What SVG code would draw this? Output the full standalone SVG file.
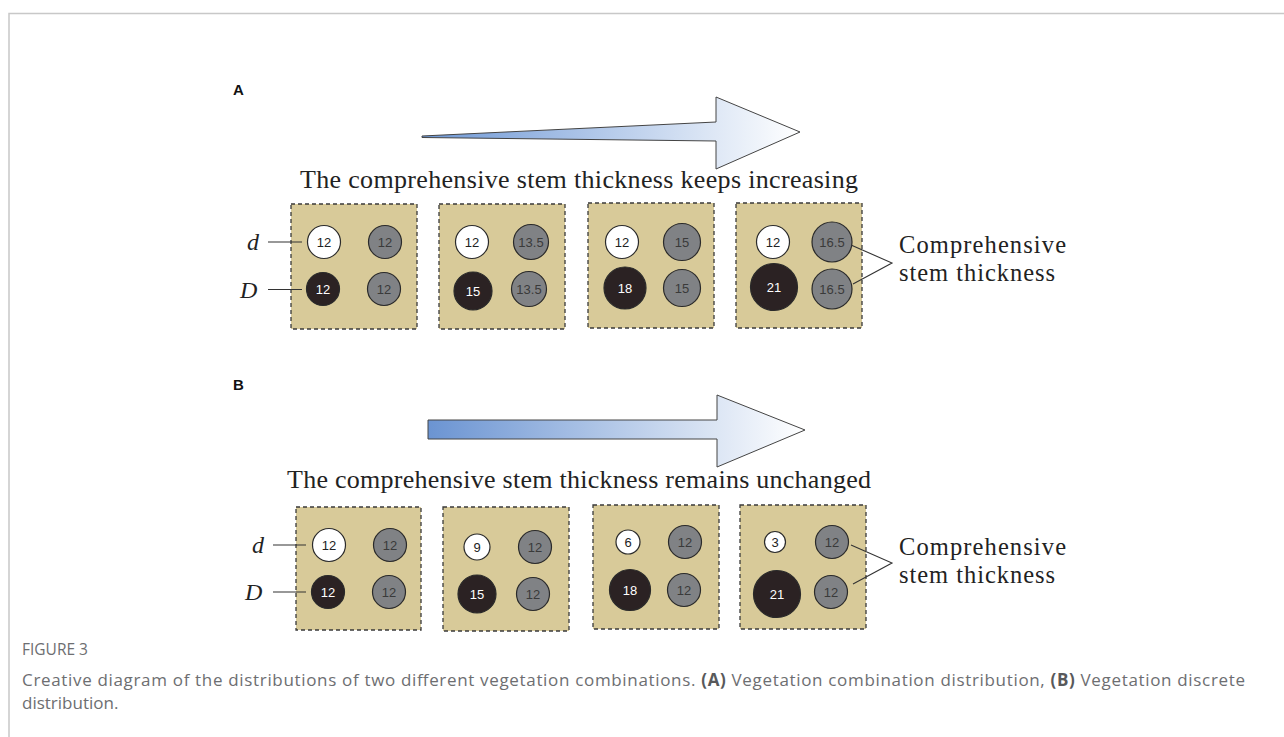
<svg xmlns="http://www.w3.org/2000/svg" width="1284" height="737" viewBox="0 0 1284 737">
<defs>
<linearGradient id="gA" x1="0" y1="0" x2="1" y2="0">
<stop offset="0" stop-color="#6e98d6"/>
<stop offset="1" stop-color="#ffffff"/>
</linearGradient>
<linearGradient id="gB" x1="0" y1="0" x2="1" y2="0">
<stop offset="0" stop-color="#6b94d2"/>
<stop offset="1" stop-color="#ffffff"/>
</linearGradient>
<style>
.box{fill:#d8ca99;stroke:#3a3a3a;stroke-width:1.3;stroke-dasharray:4 3}
.w{fill:#ffffff;stroke:#2a2a2a;stroke-width:1.2}
.g{fill:#808285;stroke:#2a2a2a;stroke-width:1.2}
.k{fill:#2b2223;stroke:#2a2a2a;stroke-width:1.2}
.n{font-family:"Liberation Sans",Arial,sans-serif;font-size:13px;text-anchor:middle}
.nw{fill:#222}
.ng{fill:#3a3a3a}
.nk{fill:#ffffff}
.serif{font-family:"Liberation Serif","Times New Roman",serif;fill:#222}
.side{font-family:"Liberation Serif","Times New Roman",serif;fill:#222;font-size:24.5px}
.ital{font-family:"Liberation Serif","Times New Roman",serif;font-style:italic;font-size:24px;fill:#222}
.lbl{font-family:"Liberation Sans",Arial,sans-serif;font-weight:bold;font-size:15px;fill:#111}
.ln{stroke:#333;stroke-width:1.1;fill:none}
.arrow{stroke:#444;stroke-width:1}
.cap{font-family:"Open Sans","Noto Sans",sans-serif;fill:#6d6e71}
</style>
</defs>
<rect width="1284" height="737" fill="#ffffff"/>
<g id="frame">
<path d="M9 737 V13.5 H1284" fill="none" stroke="#c8c8c8" stroke-width="1.5"/>
</g>

<g id="panelA">
<text class="lbl" x="233" y="95">A</text>
<polygon class="arrow" fill="url(#gA)" points="422,136 716,122 716,97 800,132 716,169 716,141 422,137.5"/>
<text class="serif" x="300" y="188" font-size="26" textLength="558" lengthAdjust="spacing">The comprehensive stem thickness keeps increasing</text>
</g>

<g id="A1">
<rect class="box" x="291" y="204" width="126" height="125"/>
<circle class="w" cx="324" cy="242" r="16.5"/><text class="n nw" x="324" y="246.5">12</text>
<circle class="g" cx="385" cy="242" r="16.5"/><text class="n ng" x="385" y="246.5">12</text>
<circle class="k" cx="323" cy="289" r="16.5"/><text class="n nk" x="323" y="293.5">12</text>
<circle class="g" cx="384" cy="289" r="16.5"/><text class="n ng" x="384" y="293.5">12</text>
</g>
<g id="A2">
<rect class="box" x="439" y="204" width="126" height="125"/>
<circle class="w" cx="472" cy="242" r="16.5"/><text class="n nw" x="472" y="246.5">12</text>
<circle class="g" cx="531" cy="242" r="17.5"/><text class="n ng" x="531" y="246.5">13.5</text>
<circle class="k" cx="473" cy="291" r="19"/><text class="n nk" x="473" y="295.5">15</text>
<circle class="g" cx="529" cy="289" r="17.5"/><text class="n ng" x="529" y="293.5">13.5</text>
</g>
<g id="A3">
<rect class="box" x="588" y="203" width="126" height="125"/>
<circle class="w" cx="622" cy="242" r="16.5"/><text class="n nw" x="622" y="246.5">12</text>
<circle class="g" cx="682" cy="242" r="18.5"/><text class="n ng" x="682" y="246.5">15</text>
<circle class="k" cx="625" cy="288" r="21"/><text class="n nk" x="625" y="292.5">18</text>
<circle class="g" cx="682" cy="288" r="18.5"/><text class="n ng" x="682" y="292.5">15</text>
</g>
<g id="A4">
<rect class="box" x="736" y="203" width="126" height="125"/>
<circle class="w" cx="773" cy="242" r="16.5"/><text class="n nw" x="773" y="246.5">12</text>
<circle class="g" cx="832" cy="242" r="20"/><text class="n ng" x="832" y="246.5">16.5</text>
<circle class="k" cx="774" cy="287" r="23.5"/><text class="n nk" x="774" y="291.5">21</text>
<circle class="g" cx="832" cy="289" r="20"/><text class="n ng" x="832" y="293.5">16.5</text>
</g>
<g id="A-labels">
<text class="ital" x="247" y="250">d</text>
<text class="ital" x="240" y="298">D</text>
<text class="side" x="899" y="253" textLength="167" lengthAdjust="spacing">Comprehensive</text>
<text class="side" x="899" y="281" textLength="156" lengthAdjust="spacing">stem thickness</text>
</g>

<g id="panelB">
<text class="lbl" x="233" y="390">B</text>
<polygon class="arrow" fill="url(#gB)" points="428,420 717,420 717,395 805,430 717,467 717,439 428,439"/>
<text class="serif" x="287" y="488" font-size="26" textLength="584" lengthAdjust="spacing">The comprehensive stem thickness remains unchanged</text>
</g>

<g id="B1">
<rect class="box" x="296" y="507" width="125" height="123"/>
<circle class="w" cx="329" cy="545" r="16.5"/><text class="n nw" x="329" y="549.5">12</text>
<circle class="g" cx="390" cy="545" r="16.5"/><text class="n ng" x="390" y="549.5">12</text>
<circle class="k" cx="328" cy="592" r="16.5"/><text class="n nk" x="328" y="596.5">12</text>
<circle class="g" cx="389" cy="592" r="16.5"/><text class="n ng" x="389" y="596.5">12</text>
</g>
<g id="B2">
<rect class="box" x="443" y="507" width="126" height="124"/>
<circle class="w" cx="477" cy="547" r="13"/><text class="n nw" x="477" y="551.5">9</text>
<circle class="g" cx="535" cy="547" r="16.5"/><text class="n ng" x="535" y="551.5">12</text>
<circle class="k" cx="477" cy="594" r="19"/><text class="n nk" x="477" y="598.5">15</text>
<circle class="g" cx="533" cy="594" r="16.5"/><text class="n ng" x="533" y="598.5">12</text>
</g>
<g id="B3">
<rect class="box" x="593" y="505" width="126" height="124"/>
<circle class="w" cx="628" cy="542" r="12"/><text class="n nw" x="628" y="546.5">6</text>
<circle class="g" cx="685" cy="542" r="16.5"/><text class="n ng" x="685" y="546.5">12</text>
<circle class="k" cx="630" cy="590" r="20.5"/><text class="n nk" x="630" y="594.5">18</text>
<circle class="g" cx="684" cy="590" r="16.5"/><text class="n ng" x="684" y="594.5">12</text>
</g>
<g id="B4">
<rect class="box" x="740" y="505" width="126" height="124"/>
<circle class="w" cx="775" cy="542" r="10.5"/><text class="n nw" x="775" y="546.5">3</text>
<circle class="g" cx="832" cy="542" r="16.5"/><text class="n ng" x="832" y="546.5">12</text>
<circle class="k" cx="777" cy="594" r="23.5"/><text class="n nk" x="777" y="598.5">21</text>
<circle class="g" cx="831" cy="592" r="16.5"/><text class="n ng" x="831" y="596.5">12</text>
</g>
<g id="B-labels">
<text class="ital" x="252" y="553">d</text>
<text class="ital" x="245" y="600">D</text>
<text class="side" x="899" y="555" textLength="167" lengthAdjust="spacing">Comprehensive</text>
<text class="side" x="899" y="583" textLength="156" lengthAdjust="spacing">stem thickness</text>
</g>

<g id="connectors">
<line class="ln" x1="268" y1="242" x2="302" y2="242"/>
<line class="ln" x1="268" y1="289.5" x2="302" y2="289.5"/>
<polyline class="ln" points="851,245 892,263 853,284"/>
<line class="ln" x1="273" y1="545" x2="306" y2="545"/>
<line class="ln" x1="273" y1="592" x2="306" y2="592"/>
<polyline class="ln" points="851,545 892,563 853,584"/>
</g>

<g id="caption">
<text class="cap" x="22" y="655" font-size="15.5">FIGURE 3</text>
<text class="cap" x="22" y="686" font-size="17" textLength="1223" lengthAdjust="spacing">Creative diagram of the distributions of two different vegetation combinations. <tspan font-weight="bold" fill="#58595b">(A)</tspan> Vegetation combination distribution, <tspan font-weight="bold" fill="#58595b">(B)</tspan> Vegetation discrete</text>
<text class="cap" x="22" y="709" font-size="17">distribution.</text>
</g>
</svg>
